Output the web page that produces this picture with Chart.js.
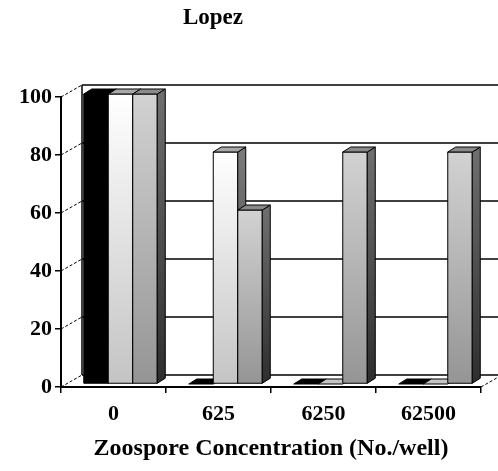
<!DOCTYPE html>
<html>
<head>
<meta charset="utf-8">
<script src="https://cdn.jsdelivr.net/npm/chart.js@4/dist/chart.umd.min.js"></script>
<style>
    html, body { margin: 0; padding: 0; background: #fff; }
    canvas { display: block; }
</style>
</head>
<body>
<canvas id="chart" width="498" height="471"></canvas>
<script>
// Data
const categories = ["0", "625", "6250", "62500"];
const seriesBlack = [100, 0, 0, 0];
const seriesWhite = [100, 80, 0, 0];
const seriesGray = [100, 60, 80, 80];
const yMin = 0, yMax = 100, yStep = 20;

const FONT = "'Liberation Serif', 'DejaVu Serif', serif";

// look of the 3D faces per dataset
const faces = [
    { front: ["#000000", "#000000"], top: "#000000", side: ["#000000", "#000000"] },
    { front: ["#ffffff", "#c4c4c4"], top: "#a8a8a8", side: ["#7a7a7a", "#3a3a3a"] },
    { front: ["#d2d2d2", "#959595"], top: "#8a8a8a", side: ["#6e6e6e", "#2e2e2e"] }
];

// back wall, left wall and floor of the 3D box
const wallOffset = { x: 21, y: -12 };
// bars stand a bit behind the front plane
const barOffset = { x: 7, y: -3 };
const barDepth = { x: 8, y: -5 };

const box3d = {
    id: "box3d",
    afterLayout(chart) {
        // title sits over the plot, not the whole canvas
        const t = chart.titleBlock;
        if (t) { t.left = 0; t.right = 426; }
    },
    beforeDatasetsDraw(chart) {
        const { ctx, chartArea: a, scales: { y } } = chart;
        const bx = a.left + wallOffset.x;
        const top = y.getPixelForValue(yMax) + wallOffset.y;
        const bottom = y.getPixelForValue(yMin) + wallOffset.y;
        ctx.save();
        ctx.strokeStyle = "#000";
        // back wall lines
        ctx.lineWidth = 1.5;
        y.ticks.forEach(t => {
            const py = y.getPixelForValue(t.value) + wallOffset.y;
            ctx.beginPath();
            ctx.moveTo(bx, py);
            ctx.lineTo(chart.width, py);
            ctx.stroke();
        });
        ctx.beginPath();
        ctx.moveTo(bx, top);
        ctx.lineTo(bx, bottom);
        ctx.stroke();
        // dashed depth lines on the left wall and floor edge
        ctx.lineWidth = 1;
        ctx.setLineDash([3, 2]);
        y.ticks.forEach(t => {
            const py = y.getPixelForValue(t.value);
            ctx.beginPath();
            ctx.moveTo(a.left, py);
            ctx.lineTo(bx, py + wallOffset.y);
            ctx.stroke();
        });
        ctx.beginPath();
        ctx.moveTo(a.right, a.bottom);
        ctx.lineTo(a.right + wallOffset.x, a.bottom + wallOffset.y);
        ctx.stroke();
        ctx.restore();
    },
    afterDatasetsDraw(chart) {
        const ctx = chart.ctx;
        const metas = chart.data.datasets.map((d, i) => chart.getDatasetMeta(i));
        ctx.save();
        ctx.strokeStyle = "#000";
        ctx.lineWidth = 1;
        ctx.lineJoin = "round";
        categories.forEach((c, i) => {
            metas.forEach((meta, d) => {
                const el = meta.data[i];
                const f = faces[d];
                const left = el.x - el.width / 2 + barOffset.x;
                const right = el.x + el.width / 2 + barOffset.x;
                const top = el.y + barOffset.y;
                const base = el.base + barOffset.y;
                const h = base - top;

                // front face
                if (h > 0.5) {
                    const g = ctx.createLinearGradient(0, top, 0, base);
                    g.addColorStop(0, f.front[0]);
                    g.addColorStop(1, f.front[1]);
                    ctx.fillStyle = g;
                    ctx.fillRect(left, top, right - left, h);
                    ctx.strokeRect(left, top, right - left, h);

                    // side face
                    const gs = ctx.createLinearGradient(0, top, 0, base);
                    gs.addColorStop(0, f.side[0]);
                    gs.addColorStop(1, f.side[1]);
                    ctx.fillStyle = gs;
                    ctx.beginPath();
                    ctx.moveTo(right, top);
                    ctx.lineTo(right + barDepth.x, top + barDepth.y);
                    ctx.lineTo(right + barDepth.x, base + barDepth.y);
                    ctx.lineTo(right, base);
                    ctx.closePath();
                    ctx.fill();
                    ctx.stroke();
                }

                // top face
                ctx.fillStyle = h > 0.5 ? f.top : f.front[1];
                ctx.beginPath();
                ctx.moveTo(left, top);
                ctx.lineTo(left + barDepth.x, top + barDepth.y);
                ctx.lineTo(right + barDepth.x, top + barDepth.y);
                ctx.lineTo(right, top);
                ctx.closePath();
                ctx.fill();
                ctx.stroke();
            });
        });
        ctx.restore();
    }
};

const noFill = "rgba(0,0,0,0)";

new Chart(document.getElementById("chart"), {
    type: "bar",
    data: {
        labels: categories,
        datasets: [
            { label: "Series 1", data: seriesBlack, backgroundColor: noFill, borderWidth: 0 },
            { label: "Series 2", data: seriesWhite, backgroundColor: noFill, borderWidth: 0 },
            { label: "Series 3", data: seriesGray, backgroundColor: noFill, borderWidth: 0 }
        ]
    },
    options: {
        responsive: false,
        animation: false,
        devicePixelRatio: 1,
        layout: { padding: { left: 0, right: 17, top: 0, bottom: 0 } },
        datasets: { bar: { categoryPercentage: 0.7, barPercentage: 1 } },
        plugins: {
            legend: { display: false },
            tooltip: { enabled: false },
            title: {
                display: true,
                text: "Lopez",
                color: "#000",
                font: { family: FONT, size: 23, weight: "bold" },
                padding: { top: 4, bottom: 65.4 }
            }
        },
        scales: {
            x: {
                offset: true,
                grid: { offset: true, drawOnChartArea: false, tickLength: 6, color: "#000", lineWidth: 1.5 },
                border: { color: "#000", width: 2 },
                ticks: {
                    color: "#000",
                    font: { family: FONT, size: 22, weight: "bold" },
                    padding: 8,
                    maxRotation: 0,
                    autoSkip: false
                },
                title: {
                    display: true,
                    text: "Zoospore Concentration (No./well)",
                    color: "#000",
                    font: { family: FONT, size: 24, weight: "bold" },
                    padding: { top: 0, bottom: 7.6 }
                },
                afterFit(scale) { scale.height = 84; }
            },
            y: {
                min: yMin,
                max: yMax,
                ticks: {
                    stepSize: yStep,
                    color: "#000",
                    font: { family: FONT, size: 22, weight: "bold" },
                    padding: 3
                },
                grid: { drawOnChartArea: false, tickLength: 6, color: "#000", lineWidth: 1.5 },
                border: { color: "#000", width: 2 },
                afterFit(scale) { scale.width = 61; }
            }
        }
    },
    plugins: [box3d]
});
</script>
</body>
</html>
